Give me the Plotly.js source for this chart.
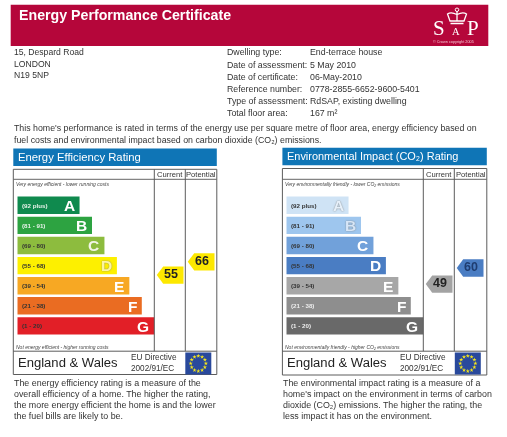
<!DOCTYPE html>
<html><head><meta charset="utf-8">
<script src="https://cdn.plot.ly/plotly-3.0.1.min.js"></script>
<style>html,body{margin:0;padding:0;background:#fff;overflow:hidden}#c{width:507px;height:437px;filter:blur(0.35px)}</style>
</head><body><div id="c"></div>
<script>
var bands=['A','B','C','D','E','F','G'];
var ranges=['(92 plus)','(81 - 91)','(69 - 80)','(55 - 68)','(39 - 54)','(21 - 38)','(1 - 20)'];
var barLengths=[5,6,7,8,9,10,11];
var energyColors=['#0f8a4e','#2da341','#8dbc3e','#fdf000','#f7a823','#ea6c22','#e21f27'];
var envColors=['#cfe3f5','#9ec6ee','#71a1da','#4a7dc3','#a7a7a7','#8e8e8e','#696969'];
var energyRatings=[55,66], energyRows=[3.47,2.81], energyTagColors=['#fde800','#fde800'];
var envRatings=[49,60], envRows=[3.92,3.12], envTagColors=['#a3a3a3','#4a7dc3'];
var tagColumns=[11,13.49];
var addressLines=['15, Despard Road','LONDON','N19 5NP'];
var infoLabels=['Dwelling type:','Date of assessment:','Date of certificate:','Reference number:','Type of assessment:','Total floor area:'];
var infoValues=['End-terrace house','5 May 2010','06-May-2010','0778-2855-6652-9600-5401','RdSAP, existing dwelling','167 m²'];
var energyText=['The energy efficiency rating is a measure of the','overall efficiency of a home. The higher the rating,','the more energy efficient the home is and the lower','the fuel bills are likely to be.'];
var envText=["The environmental impact rating is a measure of a","home's impact on the environment in terms of carbon","dioxide (CO₂) emissions. The higher the rating, the","less impact it has on the environment."];

var SANS='"Liberation Sans", Arial, sans-serif', TXT='#333333';
var W=507,H=437, ann=[], shp=[], traces=[];
function note(t,x,y,size,o){o=o||{};ann.push({text:t,x:x,y:y,xref:'x3',yref:'y3',showarrow:false,borderpad:0,
  xanchor:o.a||'left',yanchor:'middle',font:{family:o.f||SANS,size:size,color:o.c||TXT,weight:o.w||'normal',style:o.s||'normal',shadow:o.sh||'none'}});}
function rect(x0,y0,x1,y1,fill,line){shp.push({type:'rect',layer:'below',xref:'x3',yref:'y3',x0:x0,y0:y0,x1:x1,y1:y1,fillcolor:fill||'rgba(0,0,0,0)',line:line?{color:line,width:1}:{width:0}});}
function seg(x0,y0,x1,y1,c,w){shp.push({type:'line',xref:'x3',yref:'y3',x0:x0,y0:y0,x1:x1,y1:y1,line:{color:c||'#555',width:w||1}});}

/* page header */
rect(10.7,4.7,488.3,46,'#b5063a');
note('Energy Performance Certificate',18,15.3,14.2,{c:'#fff',w:'bold'});
note('S',431.5,28,21,{c:'#fff',f:'"Liberation Serif",serif'});
note('A',450.5,31.5,10.5,{c:'#fff',f:'"Liberation Serif",serif'});
note('P',466,28,21,{c:'#fff',f:'"Liberation Serif",serif'});
note('© Crown copyright 2005',432,42.3,3.8,{c:'#f3c3d0'});
shp.push({type:'path',xref:'x3',yref:'y3',path:'M450,21 L447.5,14 Q451,11.5 457,14.5 Q463,11.5 466.5,14 L464,21 Z M457,14.5 L457,21 M457,11 L457,14.5 M450.5,23.5 L463.5,23.5',line:{color:'#fff',width:1.3},fillcolor:'rgba(0,0,0,0)'});
shp.push({type:'circle',xref:'x3',yref:'y3',x0:455.2,y0:8,x1:458.8,y1:11.5,line:{color:'#fff',width:1}});

addressLines.forEach(function(t,i){note(t,13,52.3+i*11.2,8.6);});
infoLabels.forEach(function(t,i){var y=52.3+i*12.2;note(t,225.5,y,8.8);note(infoValues[i],309.3,y,8.8);});
note("This home's performance is rated in terms of the energy use per square metre of floor area, energy efficiency based on",13,127.5,8.8);
note('fuel costs and environmental impact based on carbon dioxide (CO₂) emissions.',13,139.5,8.8);

function panel(p){
  var ax=p.idx===1?'':'2', xa='x'+ax, ya='y'+ax;
  rect(p.fL,p.tTop,p.fR,p.tBot,'#0f75b6');
  note(p.title,p.fL+3.5,(p.tTop+p.tBot)/2-0.3,p.tSize,{c:'#fff'});
  rect(p.fL,p.top,p.fR,p.bot,null,'#5c5c5c');
  seg(p.fL,179.3,p.fR,179.3,'#666');
  seg(p.cur,p.top,p.cur,351.2,'#5c5c5c');
  seg(p.pot,p.top,p.pot,351.2,'#5c5c5c');
  seg(p.fL,351.2,p.fR,351.2,'#5c5c5c');
  note('Current',(p.cur+p.pot)/2,174,7.6,{a:'center'});
  note('Potential',(p.pot+p.fR)/2,174,7.6,{a:'center'});
  note(p.topNote,p.fL+2,183.7,5,{s:'italic',c:'#444'});
  note(p.botNote,p.fL+2,346.7,5,{s:'italic',c:'#444'});
  note('England &amp; Wales',p.fL+4,362.9,13.05,{c:'#222'});
  note('EU Directive',p.fL+116.5,357.7,8.2);
  note('2002/91/EC',p.fL+116.5,368.3,8.2);
  rect(p.flag,352.5,p.flag+26,374.5,'#29499c');
  var sx=[],sy=[];
  [0,1,2,3,4,5,6,7,8,9,10,11].forEach(function(i){var a=i*Math.PI/6;sx.push(p.flag+13+7.6*Math.sin(a));sy.push(363.5-7.6*Math.cos(a));});
  traces.push({type:'scatter',mode:'markers',x:sx,y:sy,xaxis:'x3',yaxis:'y3',hoverinfo:'skip',showlegend:false,marker:{symbol:'star',size:3.2,color:'#f5e61c',line:{width:0}}});
  p.text.forEach(function(t,i){note(t,p.fL-0.5,383.2+i*10.8,8.9);});

  traces.push({type:'bar',orientation:'h',x:barLengths,y:bands.map(function(_,i){return i;}),width:0.865,xaxis:xa,yaxis:ya,hoverinfo:'skip',showlegend:false,marker:{color:p.colors,line:{width:0}}});
  var unit=12.45;
  bands.forEach(function(b,i){
    var right=p.barX+barLengths[i]*unit, y=205.3+i*20.1;
    note(ranges[i],p.barX+4,y-0.3,6.2,{w:'bold',c:p.rangeColor[i]});
    var o={w:'bold',a:'right',c:p.letterColor[i]};
    if(p.letterOutline[i])o.sh='0 0 1.5px #777';
    note(b,right-4,y+0.3,15.5,o);
  });
  p.ratings.forEach(function(r,i){
    var c=tagColumns[i], row=p.rows[i], hh=0.43;
    traces.push({type:'scatter',mode:'lines',fill:'toself',fillcolor:p.tagColors[i],line:{width:0,color:p.tagColors[i]},hoverinfo:'skip',showlegend:false,xaxis:xa,yaxis:ya,
      x:[c+0.2,c+0.72,c+2.35,c+2.35,c+0.72,c+0.2],y:[row,row-hh,row-hh,row+hh,row+hh,row]});
    traces.push({type:'scatter',mode:'text',x:[c+1.34],y:[row],text:[String(r)],textposition:'middle center',hoverinfo:'skip',showlegend:false,xaxis:xa,yaxis:ya,
      textfont:{family:SANS,size:12.5,color:p.tagText[i],weight:'bold'}});
  });
}
panel({idx:1,title:'Energy Efficiency Rating',tSize:11.3,fL:13.3,fR:216.8,tTop:148.6,tBot:166,top:169.3,bot:374.5,cur:154.3,pot:185.3,flag:185.3,barX:17.3,
  topNote:'Very energy efficient - lower running costs',botNote:'Not energy efficient - higher running costs',text:energyText,colors:energyColors,
  rangeColor:['#e8f3ea','#e8f3ea','#333','#333','#333','#333','#333'],letterColor:['#fff','#fff','#f2f5e6','#fdf6a0','#fff','#fff','#fff'],letterOutline:[0,0,0,1,0,0,0],
  ratings:energyRatings,rows:energyRows,tagColors:energyTagColors,tagText:['#222','#222']});
panel({idx:2,title:'Environmental Impact (CO₂) Rating',tSize:10.95,fL:282.4,fR:486.8,tTop:147.7,tBot:165.3,top:168.5,bot:375,cur:423.3,pot:454.3,flag:454.8,barX:286.3,
  topNote:'Very environmentally friendly - lower CO₂ emissions',botNote:'Not environmentally friendly - higher CO₂ emissions',text:envText,colors:envColors,
  rangeColor:['#333','#333','#333','#333','#333','#eee','#eee'],letterColor:['#e6f0fa','#d6e6f8','#fff','#fff','#fff','#fff','#fff'],letterOutline:[1,1,0,0,0,0,0],
  ratings:envRatings,rows:envRows,tagColors:envTagColors,tagText:['#222','#1f3d70']});

function domX(a,b){return [a/W,b/W];}
var yDom=[1-351/H,1-169/H], yRange=[(351-205.3)/20.1,(169-205.3)/20.1];
function hid(o){o.visible=false;o.fixedrange=true;return o;}
var layout={width:W,height:H,margin:{l:0,r:0,t:0,b:0},paper_bgcolor:'#fff',plot_bgcolor:'rgba(0,0,0,0)',showlegend:false,barmode:'overlay',
  xaxis:hid({domain:domX(17.3,217.3),range:[0,200/12.45]}),yaxis:hid({domain:yDom,range:yRange}),
  xaxis2:hid({domain:domX(286.3,486.7),range:[0,200.4/12.45]}),yaxis2:hid({domain:yDom,range:yRange}),
  xaxis3:hid({domain:[0,1],range:[0,W]}),yaxis3:hid({domain:[0,1],range:[H,0]}),
  annotations:ann,shapes:shp};
Plotly.newPlot('c',traces,layout,{staticPlot:true,displayModeBar:false});
</script></body></html>
